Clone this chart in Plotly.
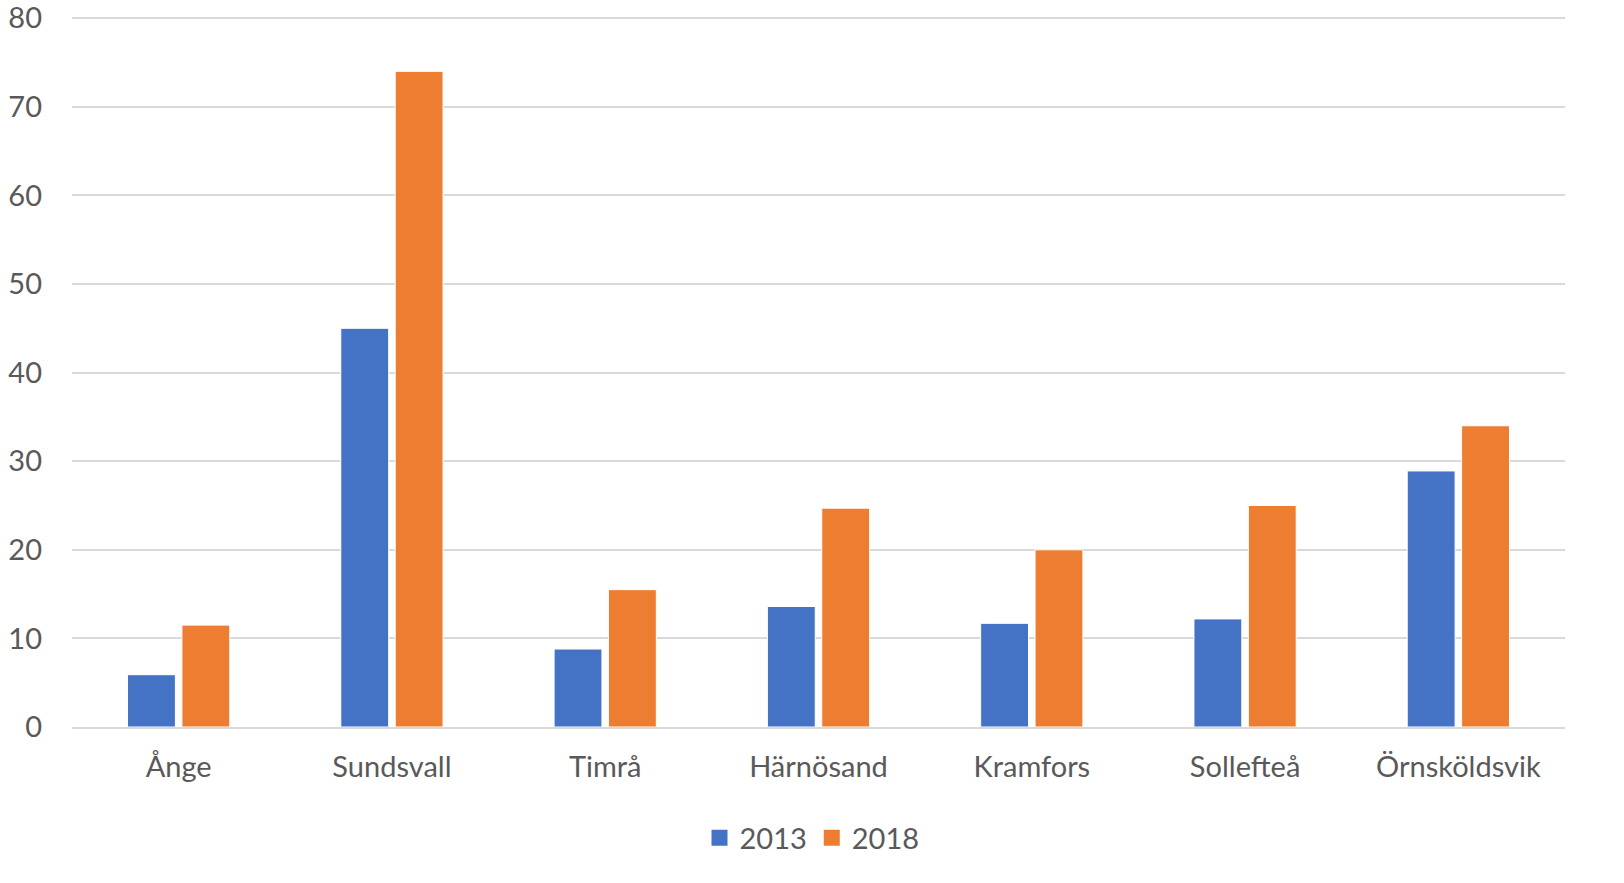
import plotly.graph_objects as go

categories = ["Ånge", "Sundsvall", "Timrå", "Härnösand", "Kramfors", "Sollefteå", "Örnsköldsvik"]
values_2013 = [5.9, 45.0, 8.8, 13.6, 11.7, 12.2, 28.9]
values_2018 = [11.5, 74.0, 15.5, 24.7, 20.0, 25.0, 34.0]
series_names = ["2013", "2018"]
y_ticks = [0, 10, 20, 30, 40, 50, 60, 70, 80]

FONT = "Lato, 'Open Sans', sans-serif"
TXT = "#595959"
COLORS = ["#4472C4", "#ED7D31"]

fig = go.Figure()
for name, vals, col in zip(series_names, [values_2013, values_2018], COLORS):
    fig.add_trace(go.Bar(x=categories, y=vals, name=name, showlegend=False,
                         marker=dict(color=col, line=dict(color="#FFFFFF", width=1))))
# legend entries with larger square swatches
for name, col in zip(series_names, COLORS):
    fig.add_trace(go.Scatter(x=[None], y=[None], mode="markers", name=name,
                             marker=dict(symbol="square", size=16, color=col)))

fig.update_layout(
    width=1624, height=883,
    paper_bgcolor="white", plot_bgcolor="white",
    margin=dict(l=72, r=59, t=16, b=156, autoexpand=False),
    barmode="group", bargap=0.49, bargroupgap=0.12,
    font=dict(family=FONT, color=TXT, size=29),
    showlegend=True,
    legend=dict(orientation="h", x=0.5, xanchor="center", xref="container",
                y=(883 - 838) / 883, yanchor="middle", yref="container",
                font=dict(size=29, color=TXT), traceorder="normal"),
)
fig.update_yaxes(range=[0, 80.25], tickvals=y_ticks, showgrid=True, gridcolor="#D9D9D9",
                 gridwidth=1.5, zeroline=False, showline=False, ticks="", automargin=False,
                 ticklabeloverflow="allow",
                 ticklabelstandoff=29, tickfont=dict(size=29, color=TXT))
fig.update_xaxes(showline=True, linecolor="#D9D9D9", linewidth=1.5, ticks="", automargin=False,
                 ticklabeloverflow="allow",
                 ticklabelstandoff=13, tickfont=dict(size=29, color=TXT))

fig.write_html("out.html", config={"displayModeBar": False},
               post_script="document.body.style.margin='0';document.body.style.overflow='hidden';")
